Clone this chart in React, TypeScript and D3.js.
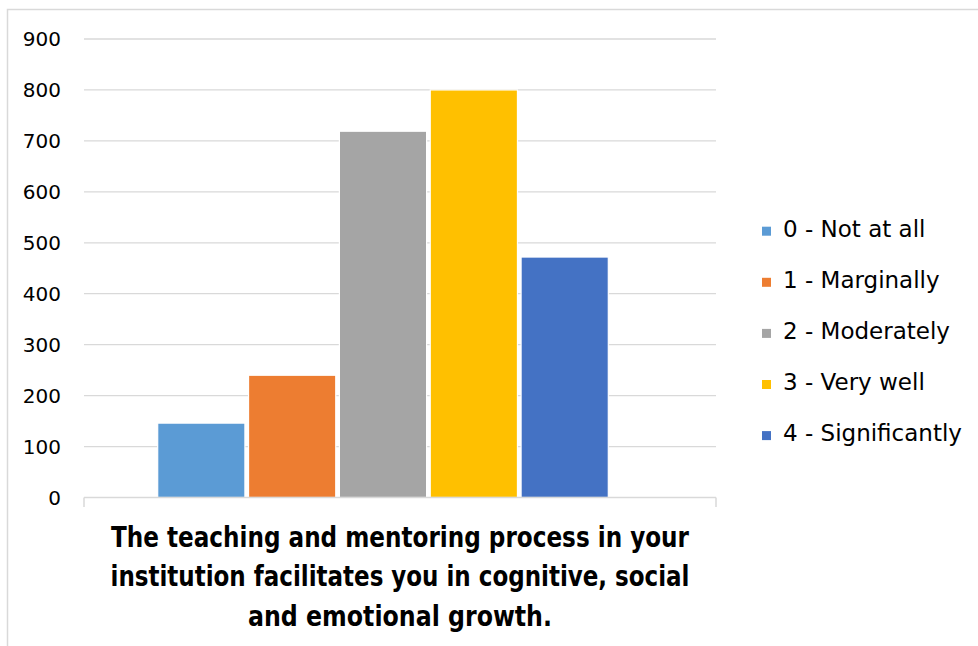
import React, {useEffect, useRef} from 'react';
import * as d3 from 'd3';

const categories = [
  '0 - Not at all',
  '1 - Marginally',
  '2 - Moderately',
  '3 - Very well',
  '4 - Significantly',
];
const counts = [146, 240, 719, 800, 472];
const colors = ['#5b9bd5', '#ed7d31', '#a5a5a5', '#ffc000', '#4472c4'];
const yTicks = [0, 100, 200, 300, 400, 500, 600, 700, 800, 900];
const titleLines = [
  'The teaching and mentoring process in your',
  'institution facilitates you in cognitive, social',
  'and emotional growth.',
];
const titleWidths = [578, 579, 304];

export default function App() {
  const ref = useRef<SVGSVGElement>(null);

  useEffect(() => {
    const svg = d3.select(ref.current);
    svg.selectAll('*').remove();

    const width = 978;
    const height = 646;
    const plotLeft = 84;
    const plotRight = 716;

    // outer chart border (only top and left show in the crop)
    svg.append('path')
      .attr('d', `M7.5,${height} L7.5,9.5 L${width},9.5`)
      .attr('fill', 'none')
      .attr('stroke', '#d9d9d9')
      .attr('stroke-width', 1.5);

    const y = d3.scaleLinear()
      .domain([0, 900])
      .range([497.5, 39]);

    const x = d3.scaleBand()
      .domain(categories)
      .range([157.7, 608.3])
      .paddingInner(0.04)
      .paddingOuter(0);

    const g = svg.append('g');

    // gridlines
    g.selectAll('.grid')
      .data(yTicks.filter(d => d > 0))
      .enter().append('line')
      .attr('x1', plotLeft)
      .attr('x2', plotRight)
      .attr('y1', d => y(d))
      .attr('y2', d => y(d))
      .attr('stroke', '#d9d9d9')
      .attr('stroke-width', 1.3);

    // tick labels
    g.selectAll('.ylab')
      .data(yTicks)
      .enter().append('text')
      .attr('x', 61)
      .attr('y', d => y(d) + 7.3)
      .attr('text-anchor', 'end')
      .style('font-family', '"DejaVu Sans", sans-serif')
      .style('font-size', '20px')
      .attr('fill', '#000')
      .text(d => d);

    // bars
    g.selectAll('.bar')
      .data(counts)
      .enter().append('rect')
      .attr('class', 'bar')
      .attr('x', (d, i) => x(categories[i])!)
      .attr('y', d => y(d))
      .attr('width', x.bandwidth())
      .attr('height', d => y(0) - y(d))
      .attr('fill', (d, i) => colors[i])
      .attr('stroke', '#fff')
      .attr('stroke-width', 1.2);

    // x axis line + end ticks
    g.append('line')
      .attr('x1', plotLeft)
      .attr('x2', plotRight)
      .attr('y1', y(0))
      .attr('y2', y(0))
      .attr('stroke', '#d9d9d9')
      .attr('stroke-width', 1.5);
    [plotLeft, plotRight].forEach(px => {
      g.append('line')
        .attr('x1', px)
        .attr('x2', px)
        .attr('y1', y(0))
        .attr('y2', y(0) + 9.5)
        .attr('stroke', '#d9d9d9')
        .attr('stroke-width', 1.5);
    });

    // category title under the axis
    g.selectAll('.title')
      .data(titleLines)
      .enter().append('text')
      .attr('x', 400)
      .attr('y', (d, i) => 547.3 + i * 39.1)
      .attr('text-anchor', 'middle')
      .attr('textLength', (d, i) => titleWidths[i])
      .attr('lengthAdjust', 'spacingAndGlyphs')
      .style('font-family', '"Liberation Sans Narrow", "DejaVu Sans Condensed", sans-serif')
      .style('font-size', '28px')
      .style('font-weight', 'bold')
      .attr('fill', '#000')
      .text(d => d);

    // legend
    const legend = svg.append('g');
    categories.forEach((c, i) => {
      const cy = 228.7 + i * 51.1;
      legend.append('rect')
        .attr('x', 762)
        .attr('y', cy - 2)
        .attr('width', 9)
        .attr('height', 9)
        .attr('fill', colors[i]);
      legend.append('text')
        .attr('x', 783)
        .attr('y', cy + 8.3)
        .style('font-family', '"DejaVu Sans", sans-serif')
        .style('font-size', '23px')
        .attr('fill', '#000')
        .text(c);
    });
  }, []);

  return (
    <svg
      ref={ref}
      width={978}
      height={646}
      style={{position: 'absolute', left: 0, top: 0, background: '#fff'}}
    />
  );
}
